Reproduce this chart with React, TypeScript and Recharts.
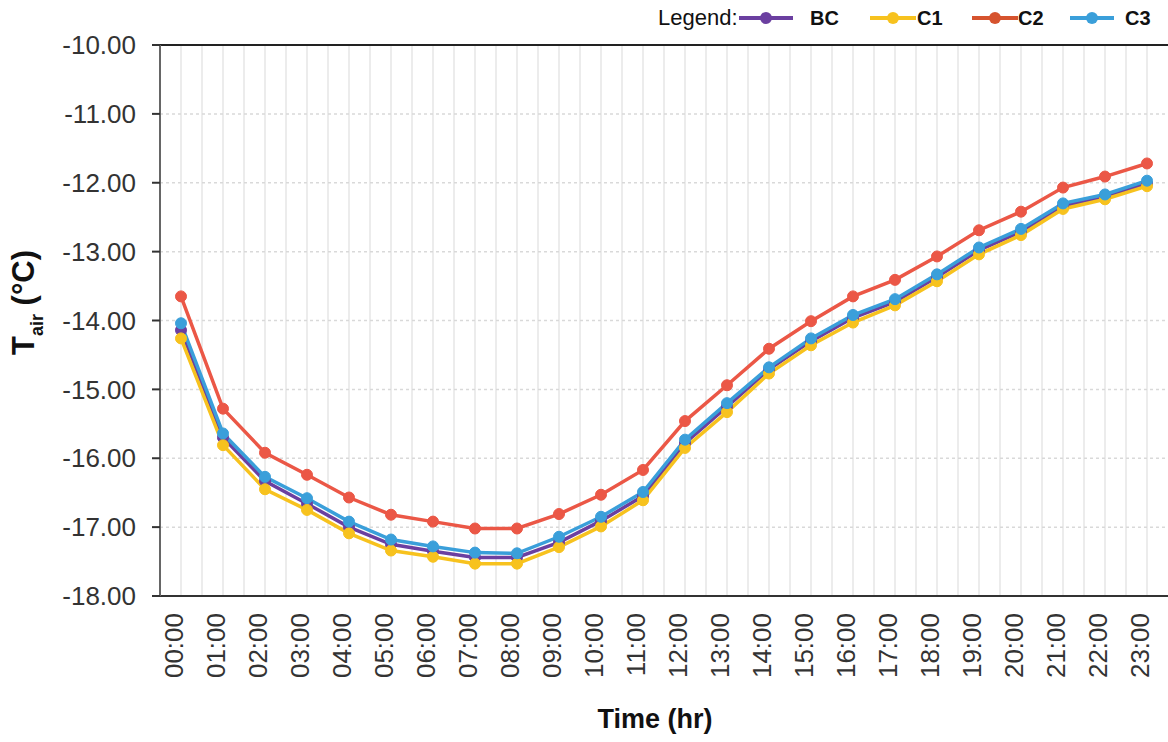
import React from "react";
import { LineChart, Line, XAxis, YAxis, CartesianGrid, Label } from "recharts";

const hours = ["00:00","01:00","02:00","03:00","04:00","05:00","06:00","07:00","08:00","09:00","10:00","11:00","12:00","13:00","14:00","15:00","16:00","17:00","18:00","19:00","20:00","21:00","22:00","23:00"];
const BC = [-14.14,-15.70,-16.33,-16.66,-17.00,-17.25,-17.35,-17.44,-17.44,-17.22,-16.91,-16.55,-15.78,-15.25,-14.71,-14.30,-13.96,-13.73,-13.37,-12.98,-12.71,-12.34,-12.20,-12.01];
const C1 = [-14.26,-15.81,-16.45,-16.75,-17.09,-17.34,-17.43,-17.53,-17.53,-17.29,-16.99,-16.61,-15.85,-15.33,-14.77,-14.36,-14.03,-13.78,-13.43,-13.04,-12.76,-12.38,-12.24,-12.05];
const C2 = [-13.65,-15.28,-15.92,-16.24,-16.57,-16.82,-16.92,-17.02,-17.02,-16.81,-16.53,-16.17,-15.46,-14.94,-14.41,-14.01,-13.65,-13.41,-13.07,-12.69,-12.42,-12.07,-11.91,-11.72];
const C3 = [-14.04,-15.64,-16.27,-16.58,-16.92,-17.18,-17.28,-17.37,-17.38,-17.14,-16.85,-16.49,-15.73,-15.20,-14.68,-14.26,-13.92,-13.69,-13.33,-12.94,-12.67,-12.30,-12.17,-11.97];
const yTicks = [-18, -17, -16, -15, -14, -13, -12, -11, -10];

const seriesNames = ["BC", "C1", "C2", "C3"];
const seriesValues = [BC, C1, C2, C3];
const seriesColors = ["#6B3FA0", "#F7C21E", "#EB5746", "#3A9FDA"];
const legendColors = ["#6B3FA0", "#F7C21E", "#D6532E", "#3A9FDA"];

const data = hours.map((h, i) => {
  const row: any = { time: h };
  seriesNames.forEach((n, j) => (row[n] = seriesValues[j][i]));
  return row;
});

const FONT = "'Liberation Sans', Arial, Helvetica, sans-serif";

const XTick = (props: any) => {
  const { x, y, payload } = props;
  const ax = x + 2;
  return (
    <text
      x={ax}
      y={y}
      transform={`rotate(-90, ${ax}, ${y})`}
      textAnchor="end"
      fontSize={26}
      fontFamily={FONT}
      fill="#333"
    >
      {payload.value}
    </text>
  );
};

const YLabel = (props: any) => {
  const vb = props.viewBox || { x: 0, y: 46, width: 160, height: 550 };
  const cx = vb.x + 34;
  const cy = vb.y + vb.height / 2 - 18;
  return (
    <text
      x={cx}
      y={cy}
      transform={`rotate(-90, ${cx}, ${cy})`}
      textAnchor="middle"
      fontSize={31}
      fontWeight="bold"
      fontFamily={FONT}
      fill="#111"
    >
      <tspan>T</tspan>
      <tspan fontSize={18} dy={9}>air</tspan>
      <tspan dy={-9}> (°C)</tspan>
    </text>
  );
};

const XLabel = (props: any) => {
  const vb = props.viewBox || { x: 160, y: 596, width: 1008, height: 146 };
  const cx = vb.x + vb.width / 2 - 9;
  return (
    <text
      x={cx}
      y={vb.y + 132}
      textAnchor="middle"
      fontSize={27}
      fontWeight="bold"
      fontFamily={FONT}
      fill="#111"
    >
      Time (hr)
    </text>
  );
};

// legend layout: [marker left, marker width, label left]
const legendLayout = [
  [739, 54, 810],
  [870, 46, 917],
  [972, 46, 1018],
  [1070, 44, 1125],
];

const LegendBox = () => (
  <div style={{ position: "absolute", top: 0, left: 0, width: 1168, height: 36, fontFamily: FONT, color: "#111" }}>
    <span style={{ position: "absolute", left: 658, top: 5, fontSize: 22, lineHeight: "26px" }}>Legend:</span>
    {seriesNames.map((n, i) => {
      const [ml, mw, tl] = legendLayout[i];
      return (
        <React.Fragment key={n}>
          <svg width={mw} height={14} style={{ position: "absolute", left: ml, top: 11 }}>
            <line x1={0} y1={7} x2={mw} y2={7} stroke={legendColors[i]} strokeWidth={4} />
            <circle cx={mw / 2} cy={7} r={6} fill={legendColors[i]} />
          </svg>
          <span style={{ position: "absolute", left: tl, top: 5, fontWeight: "bold", fontSize: 20, lineHeight: "26px" }}>{n}</span>
        </React.Fragment>
      );
    })}
  </div>
);

export default function App() {
  return (
    <div style={{ position: "absolute", left: 0, top: 0, width: 1168, height: 742, background: "#fff" }}>
      <LineChart width={1168} height={742} data={data} margin={{ top: 45, right: 0, bottom: 0, left: 0 }}>
        <CartesianGrid
          horizontal={false}
          vertical={true}
          stroke="#ececec"
          strokeWidth={2}
          verticalCoordinatesGenerator={(p: any) => {
            const off = p.offset;
            const step = off.width / hours.length;
            const out: number[] = [];
            for (let k = 1; k < hours.length * 2; k++) out.push(off.left + (k * step) / 2);
            return out;
          }}
        />
        <CartesianGrid horizontal={true} vertical={false} stroke="#d9d9d9" strokeDasharray="3 3" strokeWidth={1.5} />
        <XAxis
          dataKey="time"
          interval={0}
          height={146}
          padding={{ left: 21, right: 21 }}
          tickSize={0}
          tickMargin={17}
          tickLine={false}
          tick={<XTick />}
          axisLine={{ stroke: "#333", strokeWidth: 2 }}
        >
          <Label content={<XLabel />} />
        </XAxis>
        <XAxis
          xAxisId="top"
          dataKey="time"
          orientation="top"
          height={1}
          interval={0}
          padding={{ left: 21, right: 21 }}
          mirror
          tick={false}
          tickSize={6}
          tickLine={{ stroke: "#222", strokeWidth: 2 }}
          axisLine={{ stroke: "#222", strokeWidth: 2 }}
        />
        <YAxis
          domain={[-18, -10]}
          ticks={yTicks}
          width={160}
          interval={0}
          tickSize={8}
          tickMargin={16}
          tickFormatter={(v: number) => v.toFixed(2)}
          tick={{ fontSize: 26, fontFamily: FONT, fill: "#333" }}
          tickLine={{ stroke: "#333", strokeWidth: 2 }}
          axisLine={{ stroke: "#666", strokeWidth: 2 }}
        >
          <Label content={<YLabel />} />
        </YAxis>
        {seriesNames.map((n, i) => (
          <Line
            key={n}
            type="linear"
            dataKey={n}
            stroke={seriesColors[i]}
            strokeWidth={3.5}
            dot={{ r: 5.5, fill: seriesColors[i], stroke: seriesColors[i], strokeWidth: 1 }}
            activeDot={false}
            isAnimationActive={false}
          />
        ))}
      </LineChart>
      <LegendBox />
    </div>
  );
}
